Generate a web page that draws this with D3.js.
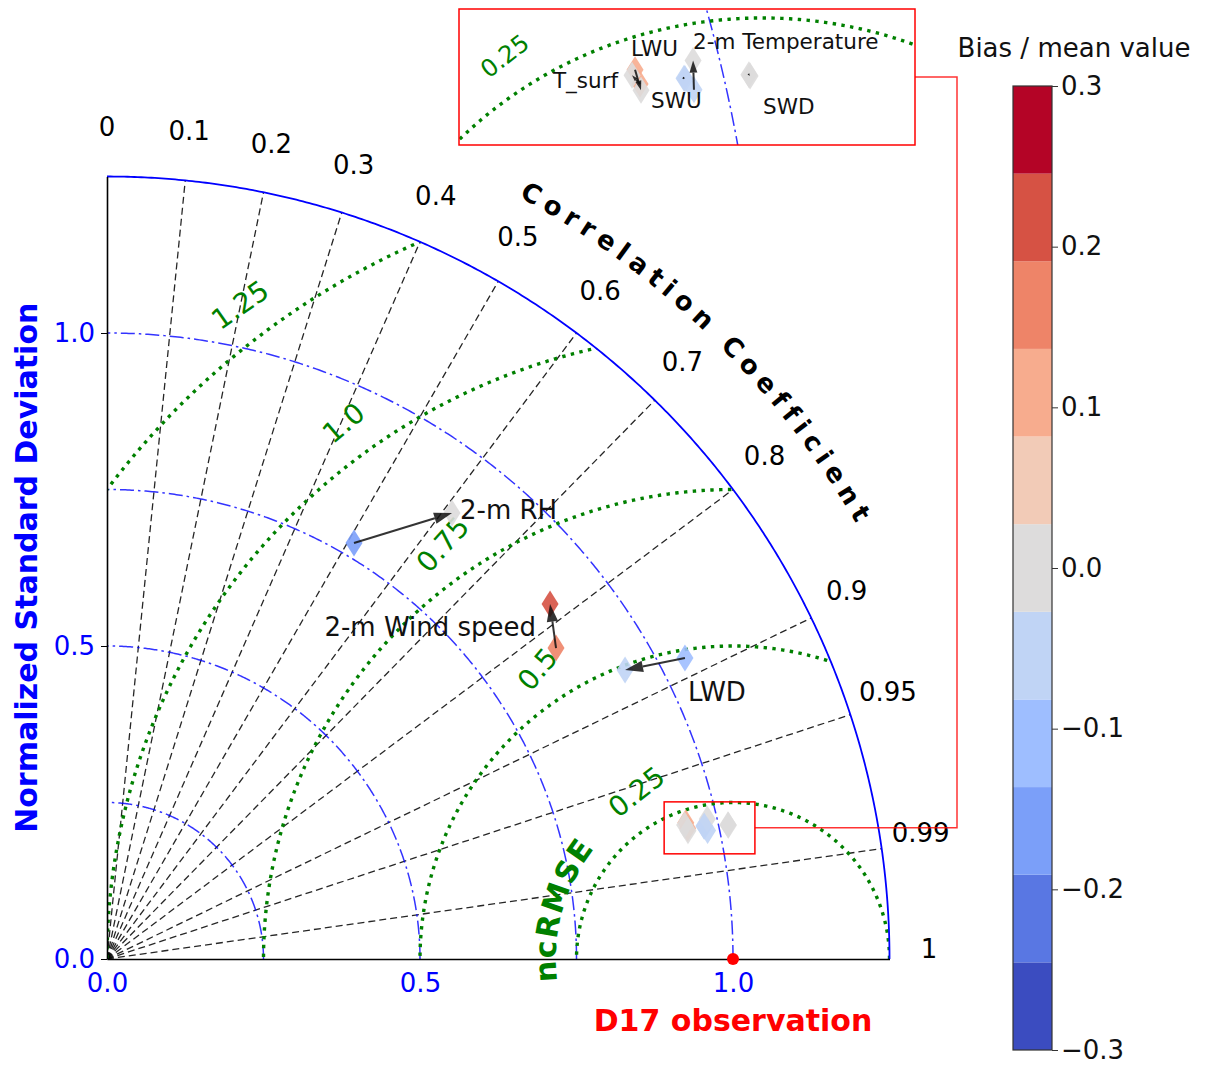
<!DOCTYPE html>
<html>
<head>
<meta charset="utf-8">
<script src="https://cdn.jsdelivr.net/npm/d3@7"></script>
<style>
  body { margin: 0; background: #fff; }
  svg { display: block; font-family: 'DejaVu Sans', sans-serif; }
</style>
</head>
<body>
<svg id="chart" width="1205" height="1065"></svg>
<script>
// ---- data ----
const names = ['2-m RH', '2-m Wind speed', 'LWD', 'LWU', 'T_surf', '2-m Temperature', 'SWU', 'SWD']
// normalized std and correlation: arrow tail (old) and arrow head (new)
const stdOld = [0.7729, 0.8725, 1.0410, 0.9498, 0.9507, 0.9811, 0.9769, 1.0149]
const corrOld = [0.5105, 0.8221, 0.8869, 0.9734, 0.9756, 0.9779, 0.9761, 0.9774]
const stdNew = [0.9007, 0.9069, 0.9476, 0.9504, 0.9473, 0.9846, 0.9774, 1.0154]
const corrNew = [0.6119, 0.7804, 0.8733, 0.9765, 0.9741, 0.9739, 0.9762, 0.9776]
// bias / mean value
const biasOld = [-0.17, 0.16, -0.10, 0.10, 0.10, -0.05, -0.05, 0.00]
const biasNew = [0.00, 0.22, -0.05, 0.00, 0.00, 0.00, -0.05, 0.00]
// variables that are labelled in the zoom box
const detail = ['LWU', 'T_surf', '2-m Temperature', 'SWU', 'SWD']

// axes / grid values
const stdTicks = [0, 0.5, 1.0]
const stdArcs = [0.25, 0.5, 0.75, 1.0]
const rmsLevels = [0.25, 0.5, 0.75, 1.0, 1.25]
const rmsLabels = ['0.25', '0.5', '0.75', '1.0', '1.25']
const corrTicks = [0, 0.1, 0.2, 0.3, 0.4, 0.5, 0.6, 0.7, 0.8, 0.9, 0.95, 0.99, 1]
const cbarTicks = [-0.3, -0.2, -0.1, 0.0, 0.1, 0.2, 0.3]
const cbarColors = ['#3b4cc0', '#5977e3', '#7b9ff9', '#9ebeff', '#c0d4f5', '#dddcdc',
  '#f2cbb7', '#f7ac8e', '#ee8468', '#d65244', '#b40426']

// ---- layout ----
const R = 1.25
const rmsLabelAngle = [120, 124, 125, 126, 127]
const rmsLabelRot = [38, 50, 48, 40, 35]
const labelLayout = {
  '2-m RH': { dx: 8, dy: -3, anchor: 'start' },
  '2-m Wind speed': { dx: -14, dy: 23, anchor: 'end' },
  'LWD': { dx: 63, dy: 22, anchor: 'start' },
  'LWU': { dx: -10, dy: -42, anchor: 'start' },
  'T_surf': { dx: -14, dy: 5, anchor: 'end' },
  '2-m Temperature': { dx: 0, dy: -19, anchor: 'start' },
  'SWU': { dx: -34, dy: 22, anchor: 'start' },
  'SWD': { dx: 13, dy: 30, anchor: 'start' }
}

const svg = d3.select('#chart')
const x = d3.scaleLinear().domain([0, R]).range([107, 889.5])
const y = d3.scaleLinear().domain([0, R]).range([959, 176.5])
const u = x(1) - x(0)

// colour of a bias value (11 discrete levels)
const cbBounds = d3.range(1, 11).map(i => -0.3 + i * 0.6 / 11)
const biasColor = d3.scaleThreshold().domain(cbBounds).range(cbarColors)

const toXY = (s, c) => [s * c, s * Math.sqrt(1 - c * c)]
const circlePts = (cx, r, a0, a1) => d3.range(a0, a1 + 0.25, 0.25)
  .map(a => [cx + r * Math.cos(a * Math.PI / 180), r * Math.sin(a * Math.PI / 180)])

const diamond = 'M0,-13.5L8.5,0L0,13.5L-8.5,0Z'

function drawArrow (g, p0, p1) {
  const dx = p1[0] - p0[0]
  const dy = p1[1] - p0[1]
  const len = Math.hypot(dx, dy)
  const ux = dx / len
  const uy = dy / len
  const hl = Math.min(18, len * 0.35 + 2)
  const hw = hl * 0.32
  const bx = p1[0] - ux * hl
  const by = p1[1] - uy * hl
  g.append('line')
    .attr('x1', p0[0]).attr('y1', p0[1])
    .attr('x2', bx).attr('y2', by)
    .attr('stroke', '#111').attr('stroke-width', 2).attr('opacity', 0.85)
  g.append('path')
    .attr('d', `M${p1[0]},${p1[1]}L${bx - uy * hw},${by + ux * hw}L${bx + uy * hw},${by - ux * hw}Z`)
    .attr('fill', '#111').attr('opacity', 0.85)
}

// letters placed one by one along a circle, reading clockwise
const measure = document.createElement('canvas').getContext('2d')
function curvedText (g, str, cx, cy, r, midDeg, size, spacing, color) {
  measure.font = `bold ${size}px "DejaVu Sans"`
  const widths = str.split('').map(ch => measure.measureText(ch).width)
  const total = d3.sum(widths) + spacing * (str.length - 1)
  let s = 0
  const a0 = midDeg * Math.PI / 180 + total / 2 / r
  str.split('').forEach((ch, i) => {
    const a = a0 - (s + widths[i] / 2) / r
    s += widths[i] + spacing
    if (ch === ' ') return
    g.append('text')
      .attr('transform', `translate(${cx + r * Math.cos(a)},${cy - r * Math.sin(a)}) rotate(${90 - a * 180 / Math.PI})`)
      .attr('text-anchor', 'middle')
      .attr('font-size', size).attr('font-weight', 'bold').attr('fill', color)
      .text(ch)
  })
}

// draw grid, contours and points on a pair of scales
function drawPanel (g, sx, sy, clipId) {
  const line = d3.line().x(d => sx(d[0])).y(d => sy(d[1]))
  const grid = g.append('g').attr('clip-path', `url(#${clipId})`)

  // correlation lines
  corrTicks.filter(c => c > 0 && c < 1).forEach(c => {
    grid.append('path')
      .attr('d', line([[0, 0], toXY(R, c)]))
      .attr('fill', 'none').attr('stroke', '#000').attr('stroke-width', 1.3)
      .attr('stroke-dasharray', '7,4').attr('opacity', 0.85)
  })
  // std arcs
  stdArcs.forEach(r => {
    grid.append('path')
      .attr('d', line(circlePts(0, r, 0, 90)))
      .attr('fill', 'none').attr('stroke', 'blue').attr('stroke-width', 1.5)
      .attr('stroke-dasharray', '14,4,2.5,4').attr('opacity', 0.8)
  })
  // centred RMS difference
  rmsLevels.forEach(r => {
    grid.append('path')
      .attr('d', line(circlePts(1, r, 0, 180)))
      .attr('fill', 'none').attr('stroke', 'green').attr('stroke-width', 3.4)
      .attr('stroke-dasharray', '3.4,5.4')
  })
}

// ---- main diagram ----
const defs = svg.append('defs')
defs.append('clipPath').attr('id', 'quarter')
  .append('path')
  .attr('d', `M${x(0)},${y(0)}L${x(R)},${y(0)}A${u * R},${u * R} 0 0 0 ${x(0)},${y(R)}Z`)

const main = svg.append('g')
drawPanel(main, x, y, 'quarter')

// outer boundary
main.append('path')
  .attr('d', d3.line().x(d => x(d[0])).y(d => y(d[1]))(circlePts(0, R, 0, 90)))
  .attr('fill', 'none').attr('stroke', 'blue').attr('stroke-width', 1.8)

// axes
const yAxis = main.append('g')
  .attr('transform', `translate(${x(0)},0)`)
  .call(d3.axisLeft(y).tickValues(stdTicks).tickFormat(d3.format('.1f')).tickSize(6).tickSizeOuter(0).tickPadding(6))
const xAxis = main.append('g')
  .attr('transform', `translate(0,${y(0)})`)
  .call(d3.axisBottom(x).tickValues(stdTicks).tickFormat(d3.format('.1f')).tickSize(0).tickSizeOuter(0).tickPadding(15))
;[yAxis, xAxis].forEach(a => {
  a.select('.domain').attr('stroke', '#000').attr('stroke-width', 1.6)
  a.selectAll('.tick line').attr('stroke', '#000')
  a.selectAll('.tick text').attr('fill', 'blue').attr('font-size', 26).attr('font-family', 'DejaVu Sans')
})

// correlation tick labels
main.append('g').selectAll('text')
  .data(corrTicks)
  .enter().append('text')
  .attr('x', d => x(toXY(1.313, d)[0]))
  .attr('y', d => y(toXY(1.313, d)[1]) - 10)
  .attr('text-anchor', 'middle')
  .attr('dominant-baseline', 'central')
  .attr('font-size', 26)
  .text(d => d)

// RMS contour labels
main.append('g').selectAll('text')
  .data(rmsLevels)
  .enter().append('text')
  .attr('transform', (d, i) => {
    const a = rmsLabelAngle[i] * Math.PI / 180
    const rr = d + 0.058
    return `translate(${x(1 + rr * Math.cos(a))},${y(rr * Math.sin(a))}) rotate(${-rmsLabelRot[i]})`
  })
  .attr('text-anchor', 'middle')
  .attr('dominant-baseline', 'central')
  .attr('fill', 'green')
  .attr('font-size', 28)
  .text((d, i) => rmsLabels[i])

// curved titles
curvedText(svg.append('g'), 'Correlation Coefficient', x(0), y(0), 1.384 * u, 45.9, 26, 6.5, '#000')
curvedText(svg.append('g'), 'ncRMSE', x(1), y(0), 0.283 * u, 164.4, 30, 1.5, 'green')

// axis titles
svg.append('text')
  .attr('transform', `translate(26,${(y(0) + y(R)) / 2}) rotate(-90)`)
  .attr('text-anchor', 'middle').attr('dominant-baseline', 'central')
  .attr('fill', 'blue').attr('font-size', 30).attr('font-weight', 'bold')
  .text('Normalized Standard Deviation')
svg.append('text')
  .attr('x', x(1)).attr('y', 1020)
  .attr('text-anchor', 'middle').attr('dominant-baseline', 'central')
  .attr('fill', 'red').attr('font-size', 30).attr('font-weight', 'bold')
  .text('D17 observation')

// markers
function drawPoints (g, sx, sy, keep) {
  const pts = names.map((n, i) => ({
    name: n,
    p0: toXY(stdOld[i], corrOld[i]),
    p1: toXY(stdNew[i], corrNew[i]),
    c0: biasColor(biasOld[i]),
    c1: biasColor(biasNew[i])
  }))
  pts.forEach(d => {
    g.append('path').attr('d', diamond)
      .attr('transform', `translate(${sx(d.p0[0])},${sy(d.p0[1])})`)
      .attr('fill', d.c0).attr('opacity', 0.9)
  })
  pts.forEach(d => {
    g.append('path').attr('d', diamond)
      .attr('transform', `translate(${sx(d.p1[0])},${sy(d.p1[1])})`)
      .attr('fill', d.c1).attr('opacity', 0.9)
  })
  pts.filter(d => keep(d.name)).forEach(d => {
    const a = [sx(d.p0[0]), sy(d.p0[1])]
    const b = [sx(d.p1[0]), sy(d.p1[1])]
    drawArrow(g, a, b)
  })
  return pts
}

const mainPts = drawPoints(main, x, y, n => detail.indexOf(n) < 0)
mainPts.filter(d => detail.indexOf(d.name) < 0).forEach(d => {
  const lay = labelLayout[d.name]
  main.append('text')
    .attr('x', x(d.p1[0]) + lay.dx).attr('y', y(d.p1[1]) + lay.dy)
    .attr('text-anchor', lay.anchor).attr('dominant-baseline', 'central')
    .attr('font-size', 26).attr('fill', '#111')
    .text(d.name)
})

// reference point
main.append('circle')
  .attr('cx', x(1)).attr('cy', y(0)).attr('r', 6).attr('fill', 'red')

// ---- zoom box ----
const zx = [0.89, 1.035]
const zy = [0.168, 0.251]
const box = { left: 459, top: 9, right: 915, bottom: 145 }
const ix = d3.scaleLinear().domain([0.8203, 1.0903]).range([box.left, box.right])
const iy = d3.scaleLinear().domain([0.1706, 0.2556]).range([box.bottom, box.top])

main.append('rect')
  .attr('x', x(zx[0])).attr('y', y(zy[1]))
  .attr('width', x(zx[1]) - x(zx[0])).attr('height', y(zy[0]) - y(zy[1]))
  .attr('fill', 'none').attr('stroke', 'red').attr('stroke-width', 1.5)
const cy0 = y((zy[0] + zy[1]) / 2)
const cyI = (box.top + box.bottom) / 2
svg.append('path')
  .attr('d', `M${x(zx[1])},${cy0}L957,${cy0}L957,${cyI}L${box.right},${cyI}`)
  .attr('fill', 'none').attr('stroke', 'red').attr('stroke-width', 1.5).attr('opacity', 0.8)

defs.append('clipPath').attr('id', 'boxClip')
  .append('rect')
  .attr('x', box.left).attr('y', box.top)
  .attr('width', box.right - box.left).attr('height', box.bottom - box.top)

const ins = svg.append('g')
ins.append('rect')
  .attr('x', box.left).attr('y', box.top)
  .attr('width', box.right - box.left).attr('height', box.bottom - box.top)
  .attr('fill', '#fff')
drawPanel(ins, ix, iy, 'boxClip')

// RMS label inside the box
const la = 124 * Math.PI / 180
const lr = 0.25 + 0.0227
ins.append('text')
  .attr('transform', `translate(${ix(1 + lr * Math.cos(la))},${iy(lr * Math.sin(la))}) rotate(-38)`)
  .attr('text-anchor', 'middle').attr('dominant-baseline', 'central')
  .attr('fill', 'green').attr('font-size', 24)
  .text(rmsLabels[0])

const insPts = drawPoints(ins.append('g').attr('clip-path', 'url(#boxClip)'), ix, iy, n => detail.indexOf(n) >= 0)
insPts.filter(d => detail.indexOf(d.name) >= 0).forEach(d => {
  const lay = labelLayout[d.name]
  ins.append('text')
    .attr('x', ix(d.p1[0]) + lay.dx).attr('y', iy(d.p1[1]) + lay.dy)
    .attr('text-anchor', lay.anchor).attr('dominant-baseline', 'central')
    .attr('font-size', 21.5).attr('fill', '#111')
    .text(d.name)
})

ins.append('rect')
  .attr('x', box.left).attr('y', box.top)
  .attr('width', box.right - box.left).attr('height', box.bottom - box.top)
  .attr('fill', 'none').attr('stroke', 'red').attr('stroke-width', 1.5)

// ---- colour bar ----
const cb = svg.append('g')
const cbScale = d3.scaleLinear().domain([-0.3, 0.3]).range([1050, 86])
const cbEdges = [-0.3].concat(cbBounds, [0.3])
cb.selectAll('rect.band')
  .data(cbarColors)
  .enter().append('rect')
  .attr('class', 'band')
  .attr('x', 1013).attr('width', 39)
  .attr('y', (d, i) => cbScale(cbEdges[i + 1]))
  .attr('height', (d, i) => cbScale(cbEdges[i]) - cbScale(cbEdges[i + 1]))
  .attr('fill', d => d)
cb.append('rect')
  .attr('x', 1013).attr('y', 86).attr('width', 39).attr('height', 964)
  .attr('fill', 'none').attr('stroke', '#333').attr('stroke-width', 1.2)
const cbAxis = cb.append('g')
  .attr('transform', 'translate(1052,0)')
  .call(d3.axisRight(cbScale).tickValues(cbarTicks).tickFormat(d3.format('.1f')).tickSize(6).tickPadding(3))
cbAxis.select('.domain').remove()
cbAxis.selectAll('.tick line').attr('stroke', '#333')
cbAxis.selectAll('.tick text').attr('font-size', 26).attr('font-family', 'DejaVu Sans').attr('fill', '#111')
svg.append('text')
  .attr('x', 1074).attr('y', 48)
  .attr('text-anchor', 'middle').attr('dominant-baseline', 'central')
  .attr('font-size', 26).attr('fill', '#111')
  .text('Bias / mean value')
</script>
</body>
</html>
